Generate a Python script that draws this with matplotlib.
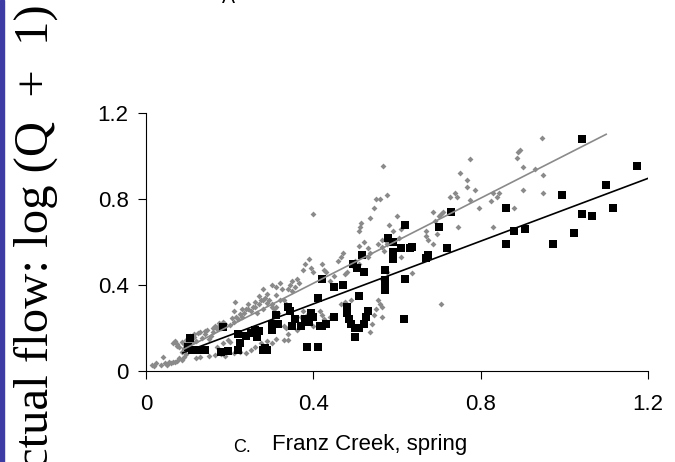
import matplotlib
matplotlib.use("Agg")
import matplotlib.pyplot as plt
import numpy as np

# ---- data ----
black_x = [0.105, 0.10, 0.11, 0.125, 0.14, 0.184, 0.18, 0.195, 0.22, 0.225, 0.22,
           0.24, 0.25, 0.26, 0.27, 0.265, 0.28, 0.29, 0.31, 0.315, 0.30, 0.34, 0.345,
           0.35, 0.355, 0.37, 0.38, 0.395, 0.40, 0.385, 0.41, 0.41, 0.42, 0.43, 0.42,
           0.45, 0.45, 0.47, 0.48, 0.48, 0.485, 0.49, 0.50, 0.51, 0.52, 0.525, 0.53,
           0.51, 0.50, 0.495, 0.505, 0.517, 0.52, 0.578, 0.59, 0.59, 0.59, 0.572,
           0.572, 0.572, 0.572, 0.61, 0.63, 0.635, 0.62, 0.62, 0.617, 0.675, 0.67,
           0.70, 0.72, 0.73, 0.86, 0.86, 0.88, 0.905, 1.043, 0.995, 0.973, 1.023,
           1.043, 1.066, 1.10, 1.116, 1.174, 0.285, 0.30, 0.39, 0.415]
black_y = [0.153, 0.11, 0.10, 0.10, 0.10, 0.205, 0.09, 0.095, 0.17, 0.13, 0.10,
           0.165, 0.175, 0.19, 0.185, 0.16, 0.10, 0.10, 0.26, 0.22, 0.22, 0.30, 0.28,
           0.21, 0.24, 0.21, 0.24, 0.27, 0.25, 0.11, 0.11, 0.34, 0.21, 0.22, 0.43,
           0.25, 0.39, 0.40, 0.30, 0.27, 0.24, 0.22, 0.20, 0.20, 0.22, 0.25, 0.28,
           0.35, 0.16, 0.50, 0.48, 0.54, 0.46, 0.62, 0.60, 0.555, 0.52, 0.47,
           0.425, 0.40, 0.375, 0.57, 0.57, 0.575, 0.68, 0.43, 0.24, 0.54, 0.525,
           0.67, 0.57, 0.74, 0.76, 0.59, 0.65, 0.66, 1.08, 0.82, 0.59, 0.64,
           0.73, 0.72, 0.865, 0.76, 0.955, 0.105, 0.19, 0.23, 0.21]

gray_x = [0.015, 0.025, 0.035, 0.045, 0.055, 0.04, 0.065, 0.075, 0.085, 0.09, 0.095,
          0.085, 0.065, 0.075, 0.085, 0.08, 0.09, 0.10, 0.095, 0.105, 0.115, 0.125,
          0.13, 0.14, 0.135, 0.15, 0.155, 0.16, 0.16, 0.17, 0.175, 0.18, 0.19, 0.20,
          0.21, 0.215, 0.21, 0.213, 0.22, 0.225, 0.23, 0.235, 0.24, 0.245, 0.25, 0.255,
          0.26, 0.265, 0.27, 0.275, 0.28, 0.285, 0.29, 0.295, 0.30, 0.305, 0.31, 0.315,
          0.30, 0.31, 0.32, 0.33, 0.335, 0.34, 0.345, 0.35, 0.355, 0.36, 0.365, 0.375,
          0.38, 0.39, 0.395, 0.40, 0.40, 0.42, 0.425, 0.43, 0.44, 0.45, 0.46, 0.465,
          0.47, 0.475, 0.48, 0.495, 0.50, 0.51, 0.51, 0.512, 0.515, 0.51, 0.52, 0.53,
          0.53, 0.535, 0.535, 0.545, 0.55, 0.575, 0.555, 0.565, 0.575, 0.565, 0.57,
          0.575,
          0.12, 0.13, 0.15, 0.165, 0.18, 0.19, 0.21, 0.225, 0.17, 0.185, 0.195, 0.20,
          0.24, 0.25, 0.26, 0.275, 0.29, 0.30, 0.31, 0.33, 0.34, 0.335, 0.33, 0.34,
          0.36, 0.365, 0.37, 0.375, 0.385, 0.39, 0.40, 0.415, 0.42, 0.425, 0.43, 0.44,
          0.465, 0.475, 0.49, 0.535, 0.54, 0.545, 0.55, 0.555, 0.56, 0.565, 0.565,
          0.565, 0.575, 0.30, 0.28, 0.29, 0.32,
          0.567, 0.56, 0.58, 0.59, 0.60, 0.605, 0.61, 0.61, 0.635, 0.705, 0.686, 0.69,
          0.70, 0.705, 0.71, 0.67, 0.67, 0.675, 0.685, 0.695, 0.727, 0.739, 0.743,
          0.75, 0.767, 0.767, 0.775, 0.787, 0.775, 0.795, 0.825, 0.83, 0.845, 0.84,
          0.745, 0.83, 0.88, 0.887, 0.89, 0.90, 0.90, 0.947, 0.93, 0.95, 0.95, 0.894,
          0.02, 0.05, 0.06, 0.07, 0.08, 0.07, 0.075, 0.09, 0.10, 0.11, 0.12, 0.105,
          0.115, 0.14, 0.145, 0.165, 0.175, 0.185, 0.205, 0.23, 0.245, 0.26, 0.27,
          0.28, 0.31, 0.325, 0.35]
gray_y = [0.03, 0.035, 0.03, 0.035, 0.04, 0.065, 0.04, 0.045, 0.05, 0.065, 0.08,
          0.09, 0.13, 0.125, 0.135, 0.11, 0.105, 0.12, 0.145, 0.165, 0.17, 0.175,
          0.18, 0.17, 0.155, 0.15, 0.165, 0.18, 0.20, 0.195, 0.21, 0.20, 0.22, 0.215,
          0.23, 0.25, 0.28, 0.32, 0.24, 0.265, 0.25, 0.27, 0.29, 0.31, 0.28, 0.30,
          0.32, 0.27, 0.35, 0.33, 0.38, 0.34, 0.36, 0.33, 0.31, 0.29, 0.30, 0.27,
          0.40, 0.39, 0.41, 0.33, 0.31, 0.38, 0.40, 0.42, 0.39, 0.43, 0.41, 0.47,
          0.50, 0.52, 0.48, 0.46, 0.73, 0.50, 0.47, 0.46, 0.42, 0.44, 0.51, 0.53,
          0.55, 0.45, 0.46, 0.49, 0.51, 0.50, 0.65, 0.67, 0.69, 0.58, 0.60, 0.57,
          0.53, 0.55, 0.71, 0.76, 0.80, 0.82, 0.59, 0.61, 0.60, 0.575, 0.56,
          0.59,
          0.06, 0.065, 0.07, 0.075, 0.08, 0.07, 0.085, 0.09, 0.11, 0.13, 0.145, 0.135,
          0.085, 0.10, 0.11, 0.13, 0.14, 0.13, 0.15, 0.145, 0.17, 0.20, 0.21, 0.145,
          0.19, 0.22, 0.25, 0.28, 0.26, 0.23, 0.21, 0.28, 0.26, 0.24, 0.23, 0.25,
          0.31, 0.32, 0.33, 0.18, 0.22, 0.26, 0.29, 0.33, 0.31, 0.25, 0.30,
          0.43, 0.46, 0.30, 0.29, 0.315, 0.33,
          0.955, 0.80, 0.68, 0.65, 0.72, 0.62, 0.66, 0.53, 0.455, 0.31, 0.74, 0.70,
          0.72, 0.73, 0.74, 0.65, 0.63, 0.61, 0.59, 0.635, 0.81, 0.83, 0.81,
          0.92, 0.89, 0.856, 0.986, 0.84, 0.795, 0.76, 0.79, 0.83, 0.83, 0.81,
          0.67, 0.67, 0.76, 0.99, 1.02, 0.95, 0.84, 1.084, 0.94, 0.91, 0.83, 1.03,
          0.025, 0.03, 0.035, 0.04, 0.06, 0.14, 0.115, 0.125, 0.13, 0.135, 0.14, 0.15,
          0.16, 0.185, 0.19, 0.21, 0.225, 0.23, 0.245, 0.29, 0.29, 0.30, 0.31,
          0.33, 0.355, 0.38, 0.37]

# fitted lines (slope, intercept, x-range)
black_fit = (0.73, 0.02, 0.088, 1.2)
gray_fit = (0.99, 0.012, 0.088, 1.10)

ticks = [0, 0.4, 0.8, 1.2]
tick_labels = ["0", "0.4", "0.8", "1.2"]

GRAY = "#8a8a8a"

fig = plt.figure(figsize=(6.75, 4.62), dpi=100)
ax = fig.add_axes([146/675, 1 - 371/462, (648 - 146)/675, (371 - 113)/462])

ax.scatter(gray_x, gray_y, marker="D", s=9, color=GRAY, linewidths=0, zorder=2,
           clip_on=False)
ax.scatter(black_x, black_y, marker="s", s=36, color="black", linewidths=0, zorder=3,
           clip_on=False)

for (m, b, x0, x1), c in [(gray_fit, GRAY), (black_fit, "black")]:
    xs = np.array([x0, x1])
    ax.plot(xs, m * xs + b, color=c, lw=1.2, zorder=4)

ax.set_xlim(0, 1.2)
ax.set_ylim(0, 1.2)
ax.set_xticks(ticks)
ax.set_xticklabels(tick_labels)
ax.set_yticks(ticks)
ax.set_yticklabels(tick_labels)
for sp in ["top", "right"]:
    ax.spines[sp].set_visible(False)
for sp in ["left", "bottom"]:
    ax.spines[sp].set_linewidth(0.8)
ax.tick_params(axis="both", direction="out", length=5.5, width=0.8,
               labelsize=16, colors="black")
ax.tick_params(axis="x", pad=11)
ax.tick_params(axis="y", pad=7)
for lab in ax.get_xticklabels() + ax.get_yticklabels():
    lab.set_family("Liberation Sans")

fig.text(370/675, 1 - 450/462, "Franz Creek, spring", ha="center", va="baseline",
         fontsize=16, family="Liberation Sans")
fig.text(233/675, 1 - 452/462, "C.", ha="left", va="baseline",
         fontsize=13, family="Liberation Sans")

# left blue strip and cut-off large axis title
fig.patches.append(plt.Rectangle((0, 0), 4/675, 1, transform=fig.transFigure,
                                 color="#3c3ca4", zorder=0))
fig.text(36/675, 1 - 4/462, "ctual flow: log (Q\u2002+\u20021)", rotation=90,
         ha="center", va="top", fontsize=35, family="Liberation Serif")

# fragment of text cut off at the top
fig.text(228/675, 1 - 3/462, "A", ha="center", va="baseline", fontsize=14,
         family="Liberation Sans")

fig.savefig("out.png", dpi=100)
